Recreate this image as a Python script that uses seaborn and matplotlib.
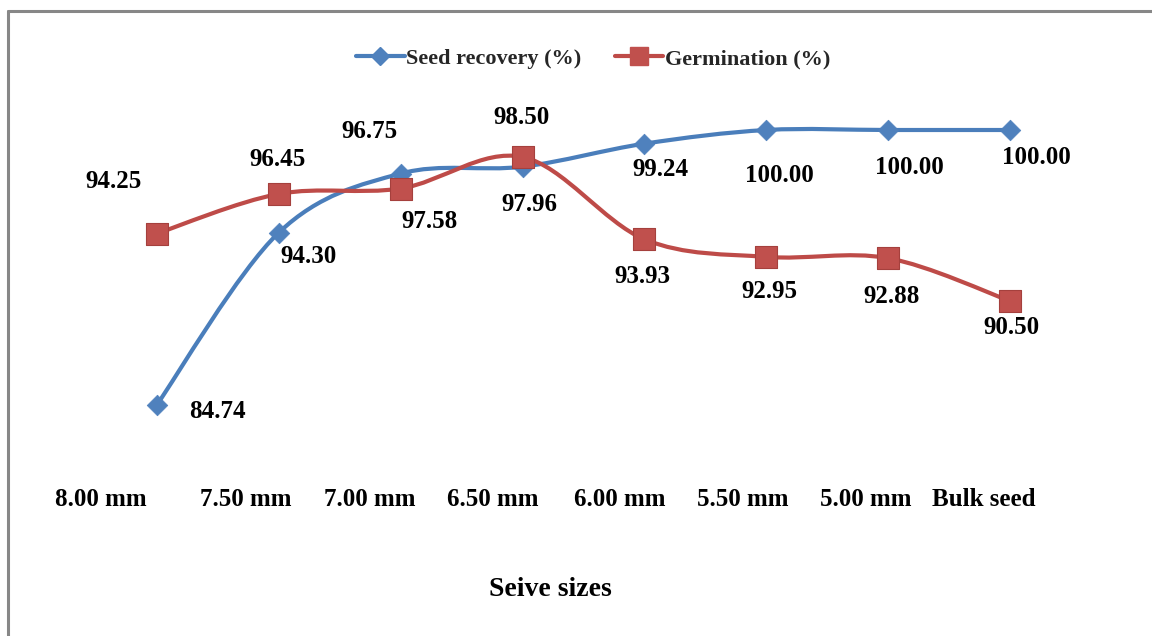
import numpy as np
import pandas as pd
import matplotlib
matplotlib.use("Agg")
import matplotlib.pyplot as plt
from matplotlib.path import Path
from matplotlib.patches import PathPatch
from matplotlib.lines import Line2D
import seaborn as sns

# ---- data ----
categories = ["8.00 mm", "7.50 mm", "7.00 mm", "6.50 mm", "6.00 mm", "5.50 mm", "5.00 mm", "Bulk seed"]
seed_recovery = [84.74, 94.30, 97.58, 97.96, 99.24, 100.00, 100.00, 100.00]
germination = [94.25, 96.45, 96.75, 98.50, 93.93, 92.95, 92.88, 90.50]
series_names = ["Seed recovery (%)", "Germination (%)"]
x_title = "Seive sizes"

# ---- style ----
sns.set_theme(style="white")
plt.rcParams["font.family"] = ["Liberation Serif", "DejaVu Serif"]
plt.rcParams["font.weight"] = "bold"

BLUE_LINE = "#4A7EBB"
BLUE_MK = "#4F81BD"
RED_LINE = "#BE4B48"
RED_MK = "#C0504D"

fig = plt.figure(figsize=(11.52, 6.36), dpi=100)
ax = fig.add_axes([96 / 1152, 1 - 472 / 636, 975 / 1152, 396 / 636])
ax.set_xlim(-0.5, len(categories) - 0.5)
ax.set_ylim(81, 103)

xs = np.arange(len(categories))


def smooth_path(x, y):
    """Catmull-Rom style bezier (Excel smoothed line) through the data points."""
    pts = np.column_stack([x, y]).astype(float)
    n = len(pts)
    verts = [pts[0]]
    codes = [Path.MOVETO]
    for i in range(n - 1):
        p0 = pts[i - 1] if i > 0 else pts[i]
        p1 = pts[i]
        p2 = pts[i + 1]
        p3 = pts[i + 2] if i + 2 < n else pts[i + 1]
        c1 = p1 + (p2 - p0) / 6.0
        c2 = p2 - (p3 - p1) / 6.0
        verts += [c1, c2, p2]
        codes += [Path.CURVE4] * 3
    return Path(verts, codes)


ax.add_patch(PathPatch(smooth_path(xs, seed_recovery), fill=False, edgecolor=BLUE_LINE,
                       lw=3.0, capstyle="round", joinstyle="round", zorder=2))
sns.scatterplot(x=xs, y=seed_recovery, marker="D", s=110, color=BLUE_MK,
                edgecolor=BLUE_MK, linewidth=0.5, ax=ax, zorder=3, legend=False)

ax.add_patch(PathPatch(smooth_path(xs, germination), fill=False, edgecolor=RED_LINE,
                       lw=3.0, capstyle="round", joinstyle="round", zorder=4))
sns.scatterplot(x=xs, y=germination, marker="s", s=250, color=RED_MK,
                edgecolor="#A5403D", linewidth=0.8, ax=ax, zorder=5, legend=False)

# ---- data labels (offsets in pixels) ----
seed_off = [(60, -7), (30, -24), (29, -48), (7, -38), (16, -26), (13, -46), (21, -37), (26, -28)]
germ_off = [(-43, 52), (-1, 34), (-31, 57), (-1, 39), (-2, -37), (3, -35), (3, -38), (1, -27)]
for i, v in enumerate(seed_recovery):
    ax.annotate(f"{v:.2f}", xy=(i, v), xytext=seed_off[i], textcoords="offset pixels",
                ha="center", va="center", fontsize=18, fontweight="bold", color="black", zorder=6)
for i, v in enumerate(germination):
    ax.annotate(f"{v:.2f}", xy=(i, v), xytext=germ_off[i], textcoords="offset pixels",
                ha="center", va="center", fontsize=18, fontweight="bold", color="black", zorder=6)

# ---- category labels ----
ax.set_xticks([])
ax.set_yticks([])
tick_dx = [-56, -33, -31, -30, -25, -24, -22, -26]
for i, c in enumerate(categories):
    ax.annotate(c, xy=(i, 0), xycoords=("data", "axes fraction"), xytext=(tick_dx[i], -28),
                textcoords="offset pixels", ha="center", va="center",
                fontsize=18, fontweight="bold", color="black")

for s in ax.spines.values():
    s.set_visible(False)

fig.text(550 / 1152, 1 - 590 / 636, x_title, ha="center", va="center",
         fontsize=20, fontweight="bold", color="black")

# ---- legend ----
handles = [
    Line2D([], [], color=BLUE_LINE, lw=3, marker="D", markersize=9, markerfacecolor=BLUE_MK,
           markeredgecolor=BLUE_MK),
    Line2D([], [], color=RED_LINE, lw=3, marker="s", markersize=13, markerfacecolor=RED_MK,
           markeredgecolor=RED_MK),
]
fig.legend(handles, series_names, loc="center", bbox_to_anchor=(593 / 1152, 1 - 59 / 636),
           ncol=2, frameon=False, prop={"family": "Liberation Serif", "weight": "bold", "size": 16},
           handlelength=2.2, handletextpad=0.05, columnspacing=1.5)

# ---- chart-area border (left and top only, as in the reference) ----
fig.add_artist(Line2D([8 / 1152, 8 / 1152], [0, 1 - 11 / 636], transform=fig.transFigure,
                      color="#878787", lw=2.2))
fig.add_artist(Line2D([8 / 1152, 1], [1 - 11 / 636, 1 - 11 / 636], transform=fig.transFigure,
                      color="#878787", lw=2.2))

fig.savefig("out.png", dpi=100, facecolor="white")
